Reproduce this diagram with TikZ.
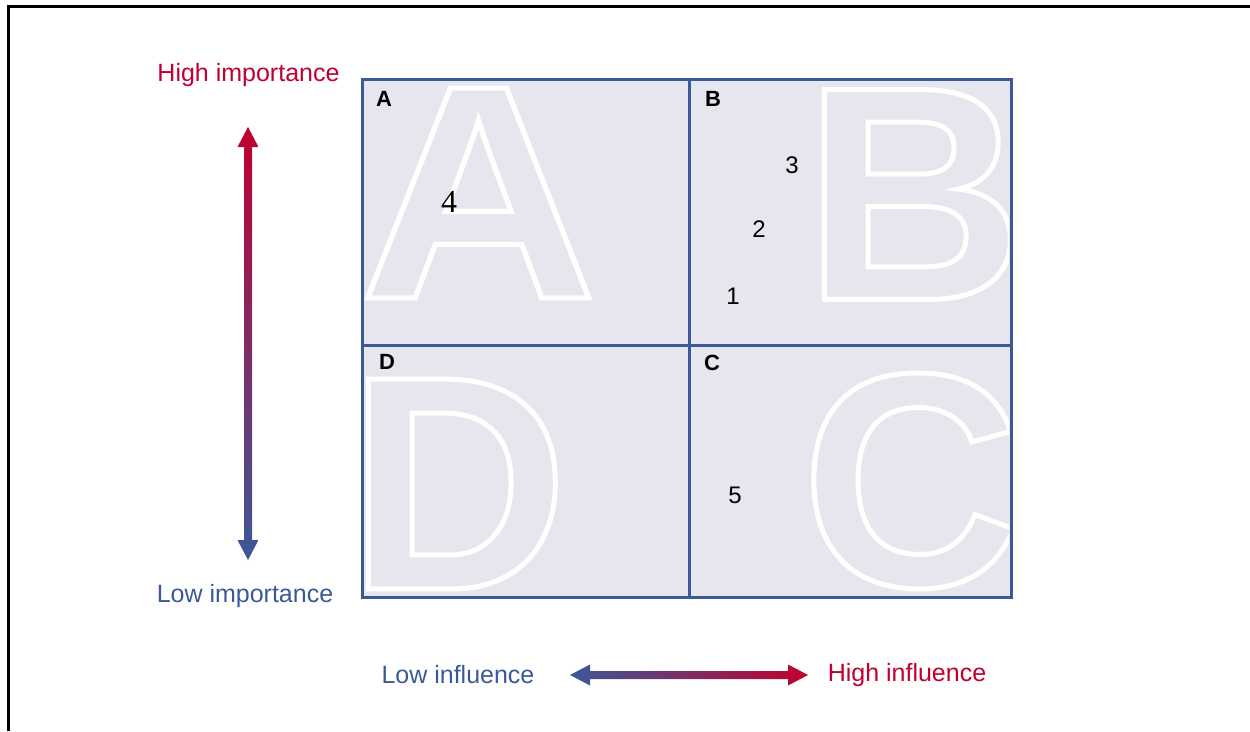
\documentclass[tikz,border=0pt]{standalone}
\usepackage{fontspec}
\setmainfont{Liberation Sans}
\newfontfamily\serifdigits{Liberation Serif}
\usetikzlibrary{calc}
\definecolor{rd}{RGB}{192,0,47}
\definecolor{bl}{RGB}{59,89,152}
\definecolor{cellfill}{RGB}{230,231,238}
\newcommand\outlinetext[1]{\special{pdf:literal direct 1 Tr 5 w 0 j 1 1 1 RG}#1\special{pdf:literal direct 0 Tr}}
\begin{document}
\begin{tikzpicture}[x=1pt,y=-1pt,
  axislbl/.style={font=\fontsize{25}{30}\selectfont, inner sep=0},
  quadlbl/.style={font=\bfseries\fontsize{22}{26}\selectfont, inner sep=0},
  numlbl/.style={font=\fontsize{24}{28}\selectfont, inner sep=0},
  serifnum/.style={font=\serifdigits\fontsize{32}{36}\selectfont, inner sep=0},
  bigletter/.style={font=\bfseries\fontsize{305}{305}\selectfont, text=white, inner sep=0},
  cellbox/.style={draw=bl, fill=cellfill, line width=3, inner sep=0, minimum width=#1},
  frameline/.style={draw=black, line width=3}
]
\useasboundingbox (0,0) rectangle (1250,731);
% page frame
\draw[frameline] (8,731) -- (8,6) -- (1250,6);

% quadrants
\node[cellbox=327pt, minimum height=266pt] (qA) at (525.5,212) {};
\node[cellbox=322pt, minimum height=266pt] (qB) at (850,212) {};
\node[cellbox=327pt, minimum height=252pt] (qD) at (525.5,471) {};
\node[cellbox=322pt, minimum height=252pt] (qC) at (850,471) {};

% big outline letters
\begin{scope}
\clip (364,81) rectangle (687,343);
\node[bigletter, xscale=1.08] (bigA) at (478.5,193) {\outlinetext{A}};
\end{scope}
\begin{scope}
\clip (691,81) rectangle (1009,343);
\node[bigletter] (bigB) at (914,194.5) {\outlinetext{B}};
\end{scope}
\begin{scope}
\clip (364,347) rectangle (687,595);
\node[bigletter] (bigD) at (458,484) {\outlinetext{D}};
\end{scope}
\begin{scope}
\clip (691,347) rectangle (1009,595);
\node[bigletter] (bigC) at (911.5,481) {\outlinetext{C}};
\end{scope}

% quadrant labels
\node[quadlbl] (lA) at (384,99) {A};
\node[quadlbl] (lB) at (713,99) {B};
\node[quadlbl] (lD) at (387,362) {D};
\node[quadlbl] (lC) at (712,363) {C};

% numbers
\node[serifnum] (n4) at (449,202) {4};
\node[numlbl] (n3) at (792,165) {3};
\node[numlbl] (n2) at (759,229) {2};
\node[numlbl] (n1) at (733,296) {1};
\node[numlbl] (n5) at (735,495) {5};

% axis labels
\node[axislbl, text=rd] (hiimp) at (248.5,75) {High importance};
\node[axislbl, text=bl] (loimp) at (245,596) {Low importance};
\node[axislbl, text=bl] (loinf) at (458,675) {Low influence};
\node[axislbl, text=rd] (hiinf) at (907,675) {High influence};

% gradient double arrows
\coordinate (vtop) at (248,127);
\coordinate (vbot) at (248,560);
\coordinate (hleft) at (570,675);
\coordinate (hright) at (808,675);
\shade[top color=rd, bottom color=bl]
  (vtop) -- ++(10.5,20) -- ++(-6.5,0) -- ($(vbot)+(4,-20)$) -- ++(6.5,0) -- (vbot)
  -- ++(-10.5,-20) -- ++(6.5,0) -- ($(vtop)+(-4,20)$) -- ++(-6.5,0) -- cycle;
\shade[left color=bl, right color=rd]
  (hleft) -- ++(20,-10.5) -- ++(0,6.5) -- ($(hright)+(-20,-4)$) -- ++(0,-6.5) -- (hright)
  -- ++(-20,10.5) -- ++(0,-6.5) -- ($(hleft)+(20,4)$) -- ++(0,6.5) -- cycle;
\end{tikzpicture}
\end{document}
